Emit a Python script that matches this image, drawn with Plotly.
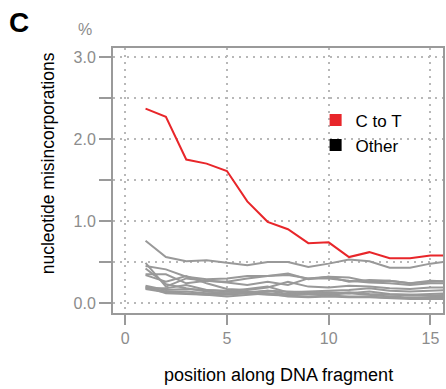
import plotly.graph_objects as go

positions = list(range(1, 17))
c_to_t = [2.37, 2.27, 1.75, 1.70, 1.61, 1.24, 0.99, 0.90, 0.73, 0.74, 0.56, 0.62, 0.545, 0.545, 0.58, 0.58]

other_1 = [0.76, 0.56, 0.51, 0.52, 0.49, 0.46, 0.50, 0.50, 0.44, 0.48, 0.53, 0.51, 0.43, 0.43, 0.48, 0.51]
other_2 = [0.49, 0.20, 0.30, 0.27, 0.26, 0.30, 0.33, 0.34, 0.30, 0.32, 0.31, 0.26, 0.27, 0.24, 0.26, 0.27]
other_3 = [0.45, 0.41, 0.32, 0.29, 0.30, 0.33, 0.33, 0.36, 0.29, 0.32, 0.26, 0.28, 0.27, 0.24, 0.27, 0.26]
other_4 = [0.35, 0.35, 0.24, 0.27, 0.25, 0.22, 0.26, 0.22, 0.30, 0.30, 0.27, 0.25, 0.24, 0.22, 0.24, 0.24]
other_5 = [0.34, 0.26, 0.33, 0.24, 0.17, 0.16, 0.19, 0.26, 0.20, 0.19, 0.21, 0.20, 0.18, 0.17, 0.19, 0.19]
other_6 = [0.21, 0.16, 0.17, 0.16, 0.14, 0.17, 0.20, 0.13, 0.14, 0.15, 0.16, 0.18, 0.15, 0.14, 0.15, 0.16]
other_7 = [0.19, 0.14, 0.14, 0.12, 0.12, 0.13, 0.15, 0.11, 0.11, 0.13, 0.12, 0.14, 0.11, 0.10, 0.11, 0.12]
other_8 = [0.18, 0.18, 0.22, 0.16, 0.15, 0.14, 0.12, 0.10, 0.11, 0.10, 0.12, 0.10, 0.08, 0.09, 0.08, 0.08]
other_9 = [0.17, 0.13, 0.12, 0.10, 0.10, 0.12, 0.10, 0.09, 0.08, 0.09, 0.08, 0.08, 0.06, 0.06, 0.06, 0.06]
other_10 = [0.42, 0.23, 0.18, 0.14, 0.12, 0.12, 0.15, 0.14, 0.13, 0.11, 0.13, 0.11, 0.10, 0.10, 0.09, 0.10]
other_11 = [0.20, 0.12, 0.11, 0.10, 0.08, 0.10, 0.12, 0.08, 0.07, 0.08, 0.07, 0.07, 0.06, 0.05, 0.05, 0.05]
others = [other_1, other_2, other_3, other_4, other_5, other_6, other_7, other_8,
          other_9, other_10, other_11]

x_ticks = [0, 5, 10, 15]
y_ticks = [0, 1, 2, 3]
y_tick_labels = ["0.0", "1.0", "2.0", "3.0"]

RED = "#e8262a"
GRAY = "#999999"
AXIS = "#9a9a9a"
GRID = "#b8b8b8"
FONT = "Liberation Sans, Arial, sans-serif"
DASH = "2px,5px"

fig = go.Figure()
for s in others:
    fig.add_trace(go.Scatter(x=positions, y=s, mode="lines",
                             line=dict(color=GRAY, width=2), showlegend=False,
                             hoverinfo="skip"))
fig.add_trace(go.Scatter(x=positions, y=c_to_t, mode="lines",
                         line=dict(color=RED, width=2), showlegend=False))

fig.add_trace(go.Scatter(x=[None], y=[None], mode="markers", name="C to T",
                         marker=dict(symbol="square", color=RED, size=8)))
fig.add_trace(go.Scatter(x=[None], y=[None], mode="markers", name="Other",
                         marker=dict(symbol="square", color="black", size=8)))

fig.update_layout(
    width=446, height=389,
    margin=dict(l=113, r=1, t=48, b=76),
    plot_bgcolor="white", paper_bgcolor="white",
    font=dict(family=FONT, color="black"),
    legend=dict(x=0.614, y=0.795, xanchor="left", yanchor="top",
                bgcolor="rgba(0,0,0,0)", font=dict(size=17, color="black"),
                tracegroupgap=0, itemsizing="constant"),
    xaxis=dict(range=[-0.6, 15.62], tickvals=x_ticks, ticks="outside",
               ticklen=10, tickwidth=2, tickcolor=AXIS,
               tickfont=dict(size=16, color="#8c8c8c"),
               showline=True, linecolor=AXIS, linewidth=2, mirror=True,
               showgrid=True, gridcolor=GRID, griddash=DASH, gridwidth=1.5,
               zeroline=False),
    yaxis=dict(range=[-0.122, 3.11], tickvals=y_ticks, ticktext=y_tick_labels,
               ticks="outside", ticklen=12, tickwidth=2, tickcolor=AXIS,
               tickfont=dict(size=16, color="#8c8c8c"),
               minor=dict(dtick=0.5, tick0=0, ticks="outside", ticklen=12,
                          tickwidth=2, tickcolor=AXIS, showgrid=True,
                          gridcolor=GRID, griddash=DASH, gridwidth=1.5),
               showline=True, linecolor=AXIS, linewidth=2, mirror=True,
               showgrid=True, gridcolor=GRID, griddash=DASH, gridwidth=1.5,
               zeroline=False),
    annotations=[
        dict(text="position along DNA fragment", xref="paper", yref="paper",
             x=0.5, y=-0.234, showarrow=False, font=dict(size=18, color="black"),
             xanchor="center", yanchor="middle"),
        dict(text="nucleotide misincorporations", xref="paper", yref="paper",
             x=-0.196, y=0.566, showarrow=False, textangle=-90,
             font=dict(size=17.5, color="black"), xanchor="center", yanchor="middle"),
        dict(text="%", xref="paper", yref="paper", x=-0.084, y=1.068,
             showarrow=False, font=dict(size=16, color="#8c8c8c"),
             xanchor="center", yanchor="middle"),
        dict(text="<b>C</b>", xref="paper", yref="paper", x=-0.286, y=1.098,
             showarrow=False, font=dict(size=28, color="black"),
             xanchor="center", yanchor="middle"),
    ],
)

fig.write_html("out.html")
